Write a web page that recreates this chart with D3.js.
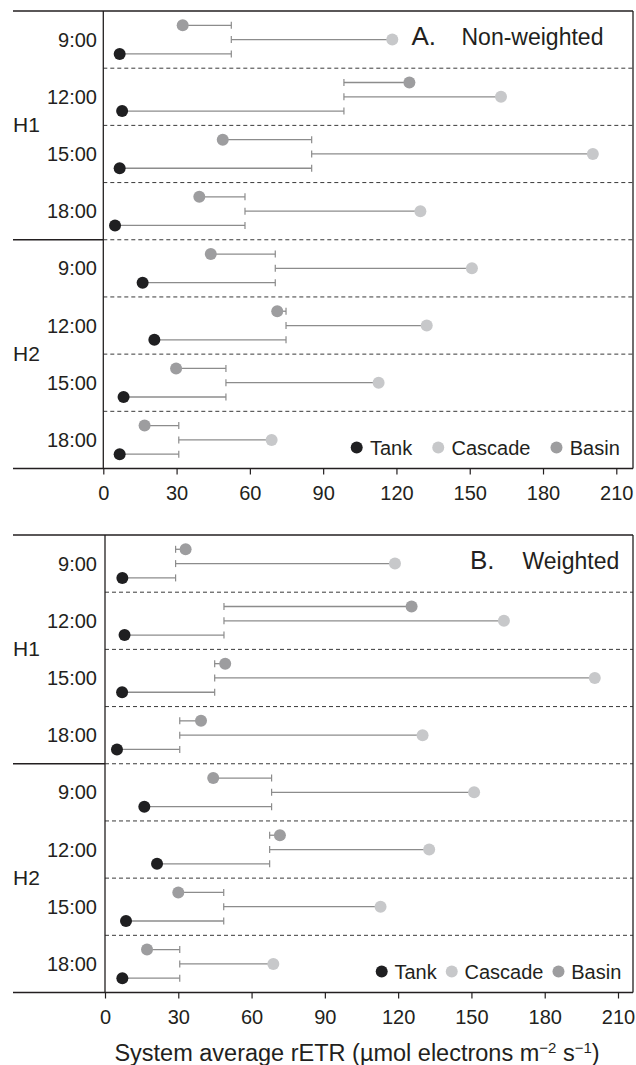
<!DOCTYPE html>
<html>
<head>
<meta charset="utf-8">
<script src="https://cdn.jsdelivr.net/npm/d3@7"></script>
<style>
  body { margin: 0; background: #fff; }
  svg { display: block; font-family: "Liberation Sans", Arial, Helvetica, sans-serif; }
</style>
</head>
<body>
<svg id="chart" width="636" height="1065"></svg>
<script>
// categories
const halves = ["H1", "H2"];
const times = ["9:00", "12:00", "15:00", "18:00"];
const series = ["Basin", "Cascade", "Tank"];          // top -> bottom inside a slot
const legendOrder = ["Tank", "Cascade", "Basin"];
const xTicks = [0, 30, 60, 90, 120, 150, 180, 210];

// A. Non-weighted (slot order: H1 9,12,15,18 then H2 9,12,15,18)
const tankA    = [6.7, 7.7, 6.7, 4.8, 16.1, 20.9, 8.3, 6.7];
const cascadeA = [118.3, 162.8, 200.4, 129.8, 150.9, 132.4, 112.7, 68.9];
const basinA   = [32.5, 125.3, 48.9, 39.3, 44.0, 71.2, 29.8, 16.9];
const meanA    = [52.4, 98.5, 85.3, 58.0, 70.4, 74.8, 50.2, 30.9];

// B. Weighted
const tankB    = [7.1, 8.0, 7.0, 4.9, 16.1, 21.3, 8.6, 7.1];
const cascadeB = [118.7, 163.3, 200.5, 130.0, 151.1, 132.7, 112.8, 68.9];
const basinB   = [33.0, 125.5, 49.2, 39.3, 44.3, 71.6, 30.0, 17.2];
const meanB    = [28.9, 48.7, 44.9, 30.6, 68.2, 67.4, 48.6, 30.6];

const colors = { Tank: "#1f1f21", Cascade: "#c7c8ca", Basin: "#9d9d9f" };
const ink = "#231f20";

const svg = d3.select("#chart");

const panels = [
  { letter: "A.", name: "Non-weighted", top: 11, left: 103.3,
    vals: { Tank: tankA, Cascade: cascadeA, Basin: basinA }, mean: meanA,
    titleX: 411.5, nameX: 461.5, legendX: 356.7, legendTxt: 13.3, legendGap: 26 },
  { letter: "B.", name: "Weighted", top: 535, left: 105,
    vals: { Tank: tankB, Cascade: cascadeB, Basin: basinB }, mean: meanB,
    titleX: 470, nameX: 522.5, legendX: 381.7, legendTxt: 12.8, legendGap: 15 }
];

const plotH = 457.5;
const rightEdge = 633;
const outerLeft = 13;
const slots = halves.flatMap(h => times.map(t => h + "|" + t));

panels.forEach(p => {
  const g = svg.append("g");
  const bottom = p.top + plotH;

  const x = d3.scaleLinear().domain([0, 210]).range([p.left, p.left + 513]);
  const slotY = d3.scaleBand().domain(slots).range([p.top, bottom]);
  const rowY = d3.scalePoint().domain(series).range([0, slotY.bandwidth()]).padding(1);

  // dashed separators between slots
  g.selectAll("line.sep")
    .data(slots.slice(1))
    .join("line")
    .attr("class", "sep")
    .attr("x1", p.left).attr("x2", rightEdge)
    .attr("y1", d => slotY(d)).attr("y2", d => slotY(d))
    .attr("stroke", "#3a3a3a")
    .attr("stroke-width", 1)
    .attr("stroke-dasharray", "4,3");

  // frame: top, bottom, right, left axis line, H1/H2 divider
  const solid = (x1, y1, x2, y2) => g.append("line")
    .attr("x1", x1).attr("y1", y1).attr("x2", x2).attr("y2", y2)
    .attr("stroke", ink).attr("stroke-width", 1.3);
  solid(outerLeft, p.top, rightEdge, p.top);
  solid(outerLeft, bottom, rightEdge, bottom);
  solid(rightEdge, p.top, rightEdge, bottom);
  solid(p.left, p.top, p.left, bottom);
  const midY = slotY("H2|9:00");
  solid(outerLeft, midY, p.left, midY);

  // x axis
  const axis = g.append("g")
    .attr("transform", `translate(0,${bottom})`)
    .call(d3.axisBottom(x).tickValues(xTicks).tickSize(6).tickPadding(11));
  axis.select(".domain").remove();
  axis.selectAll(".tick line").attr("stroke", ink).attr("stroke-width", 1.2);
  axis.selectAll(".tick text")
    .attr("fill", ink)
    .attr("font-size", 20)
    .attr("font-family", "Liberation Sans, Arial, sans-serif");

  // time labels
  g.selectAll("text.time")
    .data(slots)
    .join("text")
    .attr("class", "time")
    .attr("x", 97)
    .attr("y", d => slotY(d) + slotY.bandwidth() / 2 + 7)
    .attr("text-anchor", "end")
    .attr("font-size", 20)
    .attr("fill", ink)
    .text(d => d.split("|")[1]);

  // H1 / H2 labels
  g.selectAll("text.half")
    .data(halves)
    .join("text")
    .attr("class", "half")
    .attr("x", 13)
    .attr("y", d => {
      const first = slotY(d + "|9:00");
      return first + slotY.bandwidth() * 2 + 7;
    })
    .attr("font-size", 21)
    .attr("fill", ink)
    .text(d => d);

  // marks
  const rows = [];
  slots.forEach((s, i) => {
    series.forEach(k => {
      rows.push({ slot: s, key: k, v: p.vals[k][i], m: p.mean[i] });
    });
  });
  const cy = d => slotY(d.slot) + rowY(d.key);

  g.selectAll("line.err")
    .data(rows)
    .join("line")
    .attr("class", "err")
    .attr("x1", d => x(d.m)).attr("x2", d => x(d.v))
    .attr("y1", cy).attr("y2", cy)
    .attr("stroke", "#8c8c8c")
    .attr("stroke-width", 1.3);

  g.selectAll("line.cap")
    .data(rows)
    .join("line")
    .attr("class", "cap")
    .attr("x1", d => x(d.m)).attr("x2", d => x(d.m))
    .attr("y1", d => cy(d) - 3.5).attr("y2", d => cy(d) + 3.5)
    .attr("stroke", "#8c8c8c")
    .attr("stroke-width", 1.2);

  g.selectAll("circle.dot")
    .data(rows)
    .join("circle")
    .attr("class", "dot")
    .attr("cx", d => x(d.v))
    .attr("cy", cy)
    .attr("r", 6)
    .attr("fill", d => colors[d.key]);

  // panel title
  g.append("text")
    .attr("x", p.titleX).attr("y", p.top + 33.5)
    .attr("font-size", 26).attr("fill", ink)
    .text(p.letter);
  g.append("text")
    .attr("x", p.nameX).attr("y", p.top + 33.5)
    .attr("font-size", 23).attr("fill", ink)
    .text(p.name);

  // legend
  const ly = bottom - 21;
  let lx = p.legendX;
  legendOrder.forEach(k => {
    g.append("circle")
      .attr("cx", lx).attr("cy", ly).attr("r", 6)
      .attr("fill", colors[k]);
    const t = g.append("text")
      .attr("x", lx + p.legendTxt).attr("y", ly + 7)
      .attr("font-size", 20).attr("fill", ink)
      .text(k);
    lx += p.legendTxt + t.node().getComputedTextLength() + p.legendGap;
  });
});

// axis title
const title = svg.append("text")
  .attr("x", 357).attr("y", 1061)
  .attr("text-anchor", "middle")
  .attr("font-size", 23.5)
  .attr("fill", ink);
title.append("tspan").text("System average rETR (µmol electrons m");
title.append("tspan").attr("dy", -8).attr("font-size", 15).text("−2");
title.append("tspan").attr("dy", 8).text(" s");
title.append("tspan").attr("dy", -8).attr("font-size", 15).text("−1");
title.append("tspan").attr("dy", 8).text(")");
</script>
</body>
</html>
